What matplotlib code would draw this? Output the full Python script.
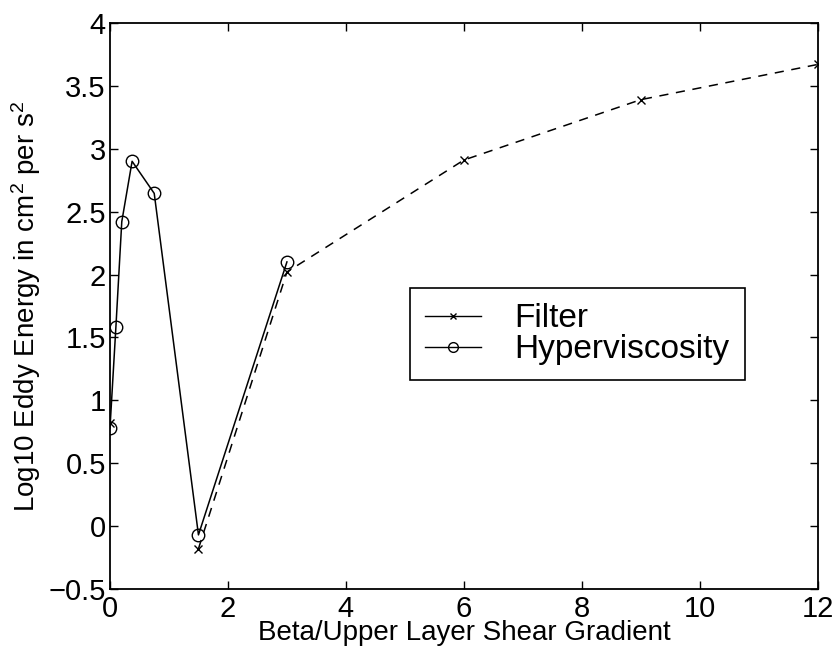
import matplotlib
matplotlib.use("Agg")
import matplotlib.pyplot as plt
from matplotlib.lines import Line2D

plt.rcParams['font.family'] = ['Liberation Sans', 'DejaVu Sans']
plt.rcParams['mathtext.fontset'] = 'custom'
plt.rcParams['mathtext.rm'] = 'Liberation Sans'
plt.rcParams['mathtext.default'] = 'regular'

# Filter runs (x markers, dashed)
filter_beta = [0, 1.5, 3, 6, 9, 12]
filter_energy = [0.82, -0.18, 2.02, 2.91, 3.39, 3.67]

# Hyperviscosity runs (o markers, solid)
hyper_beta = [0, 0.1, 0.2, 0.375, 0.75, 1.5, 3]
hyper_energy = [0.78, 1.58, 2.42, 2.90, 2.645, -0.07, 2.10]

xticks = [0, 2, 4, 6, 8, 10, 12]
yticks = [-0.5, 0, 0.5, 1, 1.5, 2, 2.5, 3, 3.5, 4]


def main():
    fig = plt.figure(figsize=(8.37, 6.55), dpi=100)
    ax = fig.add_axes([0.1314, 0.1008, 0.8456, 0.8642])

    # filter: marker at beta=0 stands alone, dashed line from 1.5 on
    ax.plot(filter_beta[:1], filter_energy[:1], 'kx', markersize=6, markeredgewidth=1)
    ax.plot(filter_beta[1:], filter_energy[1:], 'k--x', linewidth=1.1,
            markersize=6, markeredgewidth=1, dashes=(6, 5))
    ax.plot(hyper_beta, hyper_energy, 'k-o', linewidth=1.1, markersize=9,
            markerfacecolor='none', markeredgewidth=1)

    ax.set_xlim(0, 12)
    ax.set_ylim(-0.5, 4)
    ax.set_xticks(xticks)
    ax.set_yticks(yticks)
    ax.set_yticklabels(['\u22120.5', '0', '0.5', '1', '1.5', '2', '2.5', '3', '3.5', '4'])
    ax.tick_params(direction='in', top=True, right=True, length=6, width=1,
                   labelsize=21)
    ax.tick_params(axis='x', pad=4)
    ax.tick_params(axis='y', pad=3)
    for s in ax.spines.values():
        s.set_linewidth(1.3)

    ax.set_xlabel('Beta/Upper Layer Shear Gradient', fontsize=20, labelpad=-2)
    ax.set_ylabel('Log10 Eddy Energy in cm$^2$ per s$^2$', fontsize=20, labelpad=4)

    handles = [
        Line2D([], [], color='k', linestyle='-', marker='x', markersize=5, linewidth=1),
        Line2D([], [], color='k', linestyle='-', marker='o', markersize=7,
               markerfacecolor='none', linewidth=1),
    ]
    leg = ax.legend(handles, ['Filter', 'Hyperviscosity'], loc='center',
                    bbox_to_anchor=(0.66, 0.45), fontsize=24, frameon=True,
                    fancybox=False, edgecolor='k', framealpha=1,
                    handlelength=1.7, handletextpad=1.0, labelspacing=0.0,
                    borderpad=0.45, borderaxespad=0)
    leg.get_frame().set_linewidth(1.2)

    fig.savefig('out.png', dpi=100)


if __name__ == "__main__":
    main()
